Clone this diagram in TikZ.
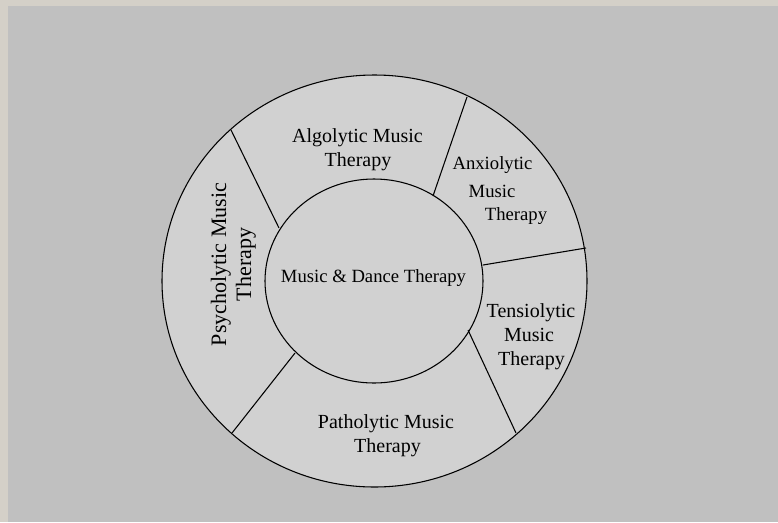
\documentclass[tikz,border=0pt]{standalone}
\usepackage{fontspec}
\setmainfont{Liberation Serif}
\definecolor{frame}{HTML}{D4D0C8}
\definecolor{bg}{HTML}{C0C0C0}
\definecolor{ring}{HTML}{D1D1D1}
\begin{document}
\begin{tikzpicture}[x=0.75pt,y=-0.75pt,
  edge/.style={draw=black,line width=0.8pt},
  lbl/.style={anchor=base,inner sep=0pt,text=black,font=\fontsize{15pt}{18pt}\selectfont},
  lblsmall/.style={lbl,font=\fontsize{14pt}{17pt}\selectfont},
  lblbig/.style={lbl,font=\fontsize{16.5pt}{19pt}\selectfont}]
\useasboundingbox (0,0) rectangle (778,522);
\fill[frame] (0,0) rectangle (778,522);
\fill[bg] (8,6) rectangle (778,522);
% outer and inner ellipses
\draw[edge,fill=ring] (374.5,281) ellipse [x radius=159.375pt, y radius=154.5pt];
\draw[edge,fill=ring] (374,281) ellipse [x radius=81.75pt, y radius=76.5pt];
% divider end points
\coordinate (o1) at (231,130);
\coordinate (i1) at (279,228);
\coordinate (o2) at (467,97);
\coordinate (i2) at (433,196);
\coordinate (o3) at (586,248);
\coordinate (i3) at (483,265);
\coordinate (o4) at (516,433);
\coordinate (i4) at (468,330);
\coordinate (o5) at (232,433);
\coordinate (i5) at (295,353);
\draw[edge] (o1) -- (i1);
\draw[edge] (o2) -- (i2);
\draw[edge] (o3) -- (i3);
\draw[edge] (o4) -- (i4);
\draw[edge] (o5) -- (i5);
% labels
\node[lblsmall] (center) at (373.5,282) {Music \& Dance Therapy};
\node[lbl] (alg1) at (357.5,142) {Algolytic Music};
\node[lbl] (alg2) at (358,166) {Therapy};
\node[lblsmall] (anx1) at (492.5,169) {Anxiolytic};
\node[lblsmall] (anx2) at (492,197) {Music};
\node[lblsmall] (anx3) at (516,220) {Therapy};
\node[lbl] (ten1) at (531,317) {Tensiolytic};
\node[lbl] (ten2) at (529,341) {Music};
\node[lbl] (ten3) at (531.5,365) {Therapy};
\node[lbl] (pat1) at (386,428) {Patholytic Music};
\node[lbl] (pat2) at (387.5,452) {Therapy};
\node[lblbig,rotate=90] (psy1) at (226,264.5) {Psycholytic Music};
\node[lblbig,rotate=90] (psy2) at (251,264.5) {Therapy};
\end{tikzpicture}
\end{document}
